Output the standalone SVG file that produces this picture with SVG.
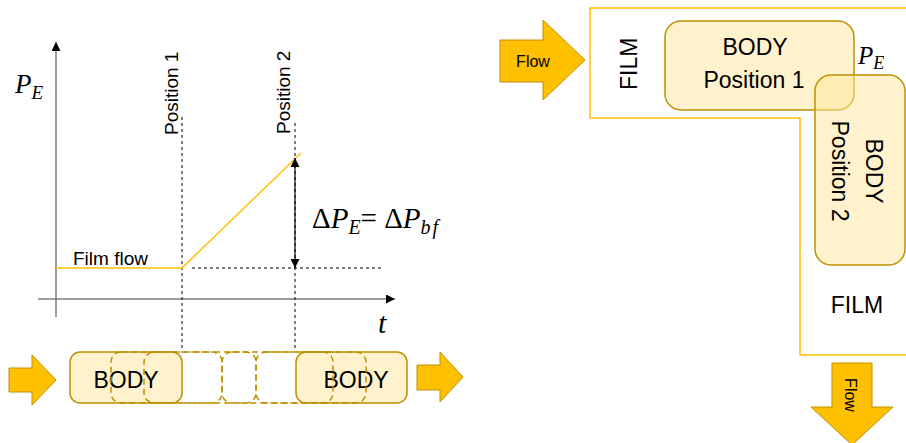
<svg xmlns="http://www.w3.org/2000/svg" width="906" height="443" viewBox="0 0 906 443">
<defs>
<marker id="ah" viewBox="0 0 10 10" refX="10" refY="5" markerWidth="10" markerHeight="9" markerUnits="userSpaceOnUse" orient="auto-start-reverse"><path d="M0,0 L10,5 L0,10 z" fill="#000"/></marker>
<style>
.lbl{font-family:"Liberation Sans",Arial,sans-serif;fill:#000}
.math{font-family:"Liberation Serif","Times New Roman",serif;fill:#000}
.it{font-style:italic}
.body{fill:#FFF2CC;stroke:#BF9000;stroke-width:1.5}
.body2{fill:#FFE699;fill-opacity:0.5;stroke:#BF9000;stroke-width:1.5}
.ghost{fill:none;stroke:#BF9000;stroke-width:1.5;stroke-dasharray:6 4}
.arrow{fill:#FFC000;stroke:#BF9000;stroke-width:1}
.dash{stroke:#000;stroke-width:1;stroke-dasharray:3 3;fill:none}
.axis{stroke:#7F7F7F;stroke-width:1.5;fill:none}
.film{fill:none;stroke:#FFC000;stroke-width:1.5}
</style>
</defs>
<rect width="906" height="443" fill="#fff"/>

<g id="connectors">
<line class="axis" x1="56" y1="317" x2="56" y2="42" marker-end="url(#ah)"/>
<line class="axis" x1="38" y1="299" x2="395" y2="299" marker-end="url(#ah)"/>
<line class="dash" x1="182" y1="117" x2="182" y2="351"/>
<line class="dash" x1="295" y1="123" x2="295" y2="351"/>
<line class="dash" x1="192" y1="268" x2="382" y2="268"/>
<polyline points="56,268 182,268 301,153" fill="none" stroke="#FFC000" stroke-width="1.5"/>
<line x1="295" y1="158" x2="295" y2="268" stroke="#000" stroke-width="1.2" marker-start="url(#ah)" marker-end="url(#ah)"/>
</g>

<g id="chart-labels">
<text class="math" x="15" y="93" font-size="27"><tspan class="it">P</tspan><tspan class="it" font-size="19" dy="6">E</tspan></text>
<text class="lbl" transform="translate(178,135) rotate(-90)" font-size="19">Position 1</text>
<text class="lbl" transform="translate(290,134) rotate(-90)" font-size="19">Position 2</text>
<text class="lbl" x="73" y="265" font-size="19">Film flow</text>
<text class="math" x="312" y="228" font-size="29">Δ<tspan class="it">P</tspan><tspan class="it" font-size="20" dy="6">E</tspan><tspan dy="-6">= Δ</tspan><tspan class="it">P</tspan><tspan class="it" font-size="20" dy="6" letter-spacing="2">bf</tspan></text>
<text class="math it" x="378" y="333" font-size="30">t</text>
</g>

<g id="flow-in-left">
<path class="arrow" d="M9,368 H32 V355 L56,380 L32,405 V392 H9 Z"/>
</g>
<g id="body-left">
<rect class="body" x="70" y="352" width="112" height="51" rx="10"/>
<text class="lbl" x="126" y="388" font-size="23" text-anchor="middle">BODY</text>
</g>
<g id="body-right">
<rect class="body" x="296" y="352" width="111" height="51" rx="10"/>
<text class="lbl" x="356" y="388" font-size="23" text-anchor="middle">BODY</text>
</g>
<g id="ghost-bodies">
<rect class="ghost" x="111" y="352" width="111" height="51" rx="10"/>
<rect class="ghost" x="144" y="352" width="112" height="51" rx="10"/>
<rect class="ghost" x="222" y="352" width="111" height="51" rx="10"/>
<rect class="ghost" x="256" y="352" width="110" height="51" rx="10"/>
</g>
<g id="flow-out-left">
<path class="arrow" d="M417,365 H440 V352 L463,377 L440,402 V390 H417 Z"/>
</g>

<g id="film">
<path class="film" d="M910,8 H590 V118 H800 V355 H910"/>
<text class="lbl" transform="translate(637,90) rotate(-90)" font-size="23">FILM</text>
<text class="lbl" x="857" y="313" font-size="23" text-anchor="middle">FILM</text>
</g>

<g id="flow-in-right">
<path class="arrow" d="M500,40 H543 V20 L585,60 L543,100 V82 H500 Z"/>
<text class="lbl" x="533" y="67" font-size="16" text-anchor="middle">Flow</text>
</g>

<g id="body-position-1">
<rect class="body2" x="665" y="21" width="189" height="89" rx="16"/>
<text class="lbl" x="755" y="55" font-size="23" text-anchor="middle">BODY</text>
<text class="lbl" x="754" y="88" font-size="23" text-anchor="middle">Position 1</text>
</g>

<g id="body-position-2">
<rect class="body2" x="815" y="75" width="90" height="190" rx="16"/>
<text class="lbl" transform="translate(866,171) rotate(90)" font-size="23" text-anchor="middle">BODY</text>
<text class="lbl" transform="translate(832,171) rotate(90)" font-size="23" text-anchor="middle">Position 2</text>
</g>

<g id="pe-label">
<text class="math" x="858" y="64" font-size="25"><tspan class="it">P</tspan><tspan class="it" font-size="18" dy="5">E</tspan></text>
</g>

<g id="flow-out-right">
<path class="arrow" d="M832,363 H872 V407 H893 L852,445 L811,407 H832 Z"/>
<text class="lbl" transform="translate(845,395) rotate(90)" font-size="16" text-anchor="middle">Flow</text>
</g>
</svg>
